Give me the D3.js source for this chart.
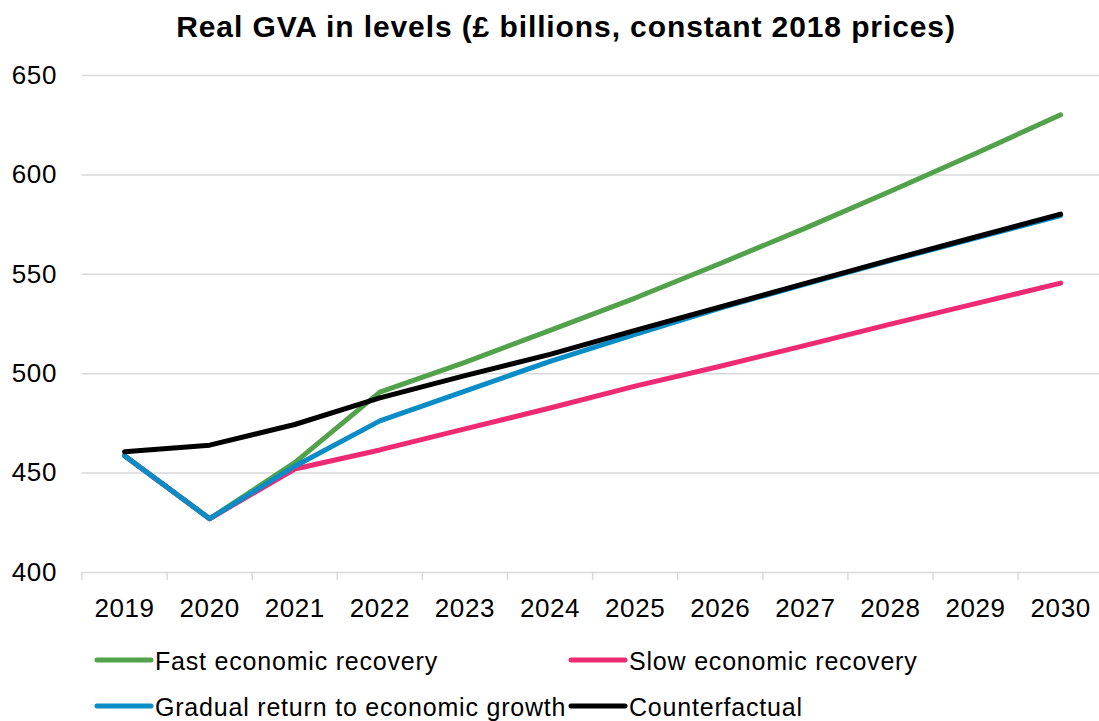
<!DOCTYPE html>
<html>
<head>
<meta charset="utf-8">
<script src="https://cdn.jsdelivr.net/npm/d3@7/dist/d3.min.js"></script>
<style>
  html, body { margin: 0; padding: 0; background: #fff; }
  svg { display: block; font-family: "Liberation Sans", Arial, sans-serif; }
</style>
</head>
<body>
<svg id="chart" width="1099" height="721"></svg>
<script>
// Real GVA scenarios, £ billions at constant 2018 prices
const years = ["2019", "2020", "2021", "2022", "2023", "2024", "2025", "2026", "2027", "2028", "2029", "2030"];
const fastRecovery   = [458.5, 426.8, 455.0, 490.5, 505.5, 521.5, 537.8, 555.2, 573.0, 591.5, 610.5, 630.0];
const slowRecovery   = [458.5, 426.8, 451.8, 461.4, 472.0, 482.5, 493.5, 503.5, 514.0, 524.7, 535.0, 545.3];
const gradualReturn  = [458.5, 426.8, 453.2, 476.0, 491.0, 506.0, 519.5, 532.8, 544.8, 556.6, 568.0, 579.3];
const counterfactual = [460.5, 463.8, 474.2, 487.6, 498.8, 509.5, 521.5, 533.3, 545.2, 557.0, 568.5, 580.0];
const yTicks = [400, 450, 500, 550, 600, 650];
const seriesNames = ["Fast economic recovery", "Slow economic recovery", "Gradual return to economic growth", "Counterfactual"];
const seriesColors = ["#52a24b", "#ee2a72", "#0a8cc6", "#000000"];

const svg = d3.select("#chart");
const band = 85.1;
const x = d3.scaleBand().domain(years).range([82, 82 + band * years.length]).padding(0);
const y = d3.scaleLinear().domain([400, 650]).range([572, 75]);
const gridColor = "#d9d9d9";

// Title
svg.append("text")
  .attr("x", 566).attr("y", 37)
  .attr("text-anchor", "middle")
  .attr("font-size", 30).attr("font-weight", "bold")
  .attr("letter-spacing", "0.9px")
  .attr("fill", "#000")
  .text("Real GVA in levels (£ billions, constant 2018 prices)");

// Horizontal gridlines + y labels
const yAxis = d3.axisLeft(y).tickValues(yTicks).tickSize(-(1099 - 82)).tickPadding(25).tickFormat(d3.format("d"));
const gy = svg.append("g").attr("transform", "translate(82,0)").call(yAxis);
gy.select(".domain").remove();
gy.selectAll(".tick line").attr("stroke", gridColor).attr("stroke-width", 1.5);
gy.selectAll(".tick text")
  .attr("font-size", 26).attr("letter-spacing", "0.6px")
  .attr("fill", "#000").attr("font-family", "Liberation Sans, Arial, sans-serif");

// Category axis: tick marks sit on the band boundaries
const boundaries = years.map(d => x(d)).concat([x(years[years.length - 1]) + x.bandwidth()]);
svg.append("g").selectAll("line").data(boundaries).join("line")
  .attr("x1", d => d).attr("x2", d => d)
  .attr("y1", y(400)).attr("y2", y(400) + 8)
  .attr("stroke", gridColor).attr("stroke-width", 1.5);
svg.append("g").selectAll("text").data(years).join("text")
  .attr("x", d => x(d) + x.bandwidth() / 2)
  .attr("y", 617)
  .attr("text-anchor", "middle")
  .attr("font-size", 26).attr("letter-spacing", "0.6px")
  .attr("fill", "#000")
  .text(d => d);

// Lines
const seriesData = [fastRecovery, slowRecovery, gradualReturn, counterfactual];
const line = d3.line()
  .x((d, i) => x(years[i]) + x.bandwidth() / 2)
  .y(d => y(d));
svg.append("g").selectAll("path").data(seriesData).join("path")
  .attr("d", d => line(d))
  .attr("fill", "none")
  .attr("stroke", (d, i) => seriesColors[i])
  .attr("stroke-width", 5)
  .attr("stroke-linejoin", "round")
  .attr("stroke-linecap", "round");

// Legend (two columns, two rows)
const legendPos = [
  { lx: 97, ly: 660 },
  { lx: 571, ly: 660 },
  { lx: 97, ly: 706 },
  { lx: 571, ly: 706 }
];
const lg = svg.append("g").selectAll("g").data(seriesNames).join("g")
  .attr("transform", (d, i) => `translate(${legendPos[i].lx},${legendPos[i].ly})`);
lg.append("line")
  .attr("x1", 0).attr("x2", 54).attr("y1", 0).attr("y2", 0)
  .attr("stroke", (d, i) => seriesColors[i])
  .attr("stroke-width", 5).attr("stroke-linecap", "round");
lg.append("text")
  .attr("x", 58).attr("y", 10)
  .attr("font-size", 25).attr("letter-spacing", "0.8px")
  .attr("fill", "#000")
  .text(d => d);
</script>
</body>
</html>
